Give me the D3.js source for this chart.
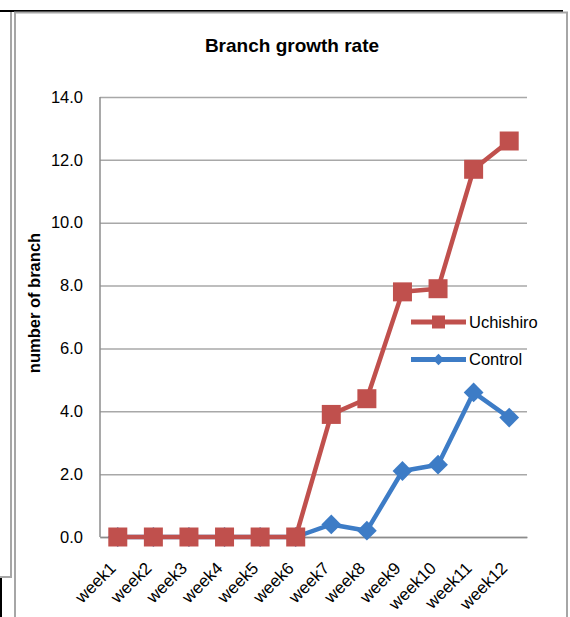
<!DOCTYPE html>
<html>
<head>
<meta charset="utf-8">
<script src="https://cdn.jsdelivr.net/npm/d3@7/dist/d3.min.js"></script>
<style>
  html, body { margin: 0; padding: 0; background: #fff; }
  svg { display: block; font-family: "Liberation Sans", Arial, sans-serif; }
</style>
</head>
<body>
<svg id="chart" width="570" height="617"></svg>
<script>
// Weekly branch counts for the two groups
const weeks = ["week1","week2","week3","week4","week5","week6","week7","week8","week9","week10","week11","week12"];
const uchishiro = [0, 0, 0, 0, 0, 0, 3.9, 4.4, 7.8, 7.9, 11.7, 12.6];
const control   = [0, 0, 0, 0, 0, 0, 0.4, 0.2, 2.1, 2.3, 4.6, 3.8];
const yTicks = [0, 2, 4, 6, 8, 10, 12, 14];
const seriesNames = ["Uchishiro", "Control"];

const RED = "#C0504D", BLUE = "#3D7CC6", GRID = "#A8A8A8", AXIS = "#8C8C8C";

const svg = d3.select("#chart");

// Surrounding frame lines
const frame = svg.append("g");
frame.append("line").attr("x1", 0).attr("x2", 563).attr("y1", 11).attr("y2", 11)
  .attr("stroke", "#000").attr("stroke-width", 2);
frame.append("path").attr("d", "M11,12 V577 H0").attr("fill", "none")
  .attr("stroke", "#A6A6A6").attr("stroke-width", 2);
frame.append("path").attr("d", "M15,617 V12.5 H567 V617").attr("fill", "none")
  .attr("stroke", "#A6A6A6").attr("stroke-width", 2);
frame.append("line").attr("x1", 1).attr("x2", 1).attr("y1", 578).attr("y2", 617)
  .attr("stroke", "#000").attr("stroke-width", 2);

const plotLeft = 100, plotRight = 527, plotTop = 97, plotBottom = 537;

const x = d3.scaleBand().domain(weeks).range([plotLeft, plotRight]);
const cx = w => x(w) + x.bandwidth() / 2;
const y = d3.scaleLinear().domain([0, 14]).range([plotBottom, plotTop]);

// Title
svg.append("text").attr("x", 292).attr("y", 52).attr("text-anchor", "middle")
  .attr("font-size", 19).attr("font-weight", "bold").attr("fill", "#000")
  .text("Branch growth rate");

// Y axis with gridlines
const yAxis = svg.append("g").attr("transform", `translate(${plotLeft},0)`)
  .call(d3.axisLeft(y).tickValues(yTicks).tickFormat(d3.format(".1f"))
    .tickSize(-(plotRight - plotLeft)).tickPadding(17));
yAxis.select(".domain").remove();
yAxis.selectAll(".tick line").attr("stroke", GRID).attr("stroke-width", 1.5);
yAxis.selectAll(".tick text").attr("font-size", 16.5).attr("fill", "#000")
  .attr("font-family", "Liberation Sans, Arial, sans-serif");

svg.append("line").attr("x1", plotLeft).attr("x2", plotLeft).attr("y1", plotTop).attr("y2", plotBottom)
  .attr("stroke", AXIS).attr("stroke-width", 1.5);

// Y axis title
svg.append("text").attr("transform", `translate(40,${(plotTop + plotBottom) / 2 - 14}) rotate(-90)`)
  .attr("text-anchor", "middle").attr("font-size", 16.5).attr("font-weight", "bold")
  .text("number of branch");

// X axis with rotated week labels
const xAxis = svg.append("g").attr("transform", `translate(0,${plotBottom})`)
  .call(d3.axisBottom(x).tickSize(0).tickFormat(d => d));
xAxis.select(".domain").attr("stroke", AXIS).attr("stroke-width", 1.5);
xAxis.selectAll(".tick text")
  .attr("font-size", 17).attr("fill", "#000")
  .attr("font-family", "Liberation Sans, Arial, sans-serif")
  .attr("text-anchor", "end")
  .attr("transform", "translate(-5,28) rotate(-45)")
  .attr("y", 0).attr("x", 0).attr("dy", "0.35em");

// Series lines and markers
const line = d3.line().x((d, i) => cx(weeks[i])).y(d => y(d));

function drawSeries(values, color, shape) {
  const g = svg.append("g");
  g.append("path").datum(values).attr("d", line).attr("fill", "none")
    .attr("stroke", color).attr("stroke-width", 4.5).attr("stroke-linejoin", "round");
  const sym = shape === "square"
    ? d3.symbol().type(d3.symbolSquare).size(19 * 19)
    : d3.symbol().type(d3.symbolSquare).size(14 * 14);
  g.selectAll("path.m").data(values).join("path").attr("class", "m")
    .attr("d", sym)
    .attr("transform", (d, i) => `translate(${cx(weeks[i])},${y(d)})` + (shape === "diamond" ? " rotate(45)" : ""))
    .attr("fill", color);
}

drawSeries(control, BLUE, "diamond");
drawSeries(uchishiro, RED, "square");

// Legend
const legend = svg.append("g");
const legendRows = [
  { name: seriesNames[0], color: RED, shape: "square", yy: 322 },
  { name: seriesNames[1], color: BLUE, shape: "diamond", yy: 359.5 }
];
legendRows.forEach(r => {
  legend.append("line").attr("x1", 411).attr("x2", 466).attr("y1", r.yy).attr("y2", r.yy)
    .attr("stroke", r.color).attr("stroke-width", 5);
  const s = r.shape === "square"
    ? d3.symbol().type(d3.symbolSquare).size(13 * 13)
    : d3.symbol().type(d3.symbolSquare).size(8 * 8);
  legend.append("path").attr("d", s)
    .attr("transform", `translate(438.5,${r.yy})` + (r.shape === "diamond" ? " rotate(45)" : ""))
    .attr("fill", r.color);
  legend.append("text").attr("x", 469).attr("y", r.yy).attr("dy", "0.36em")
    .attr("font-size", 16.5).attr("fill", "#000").text(r.name);
});
</script>
</body>
</html>
